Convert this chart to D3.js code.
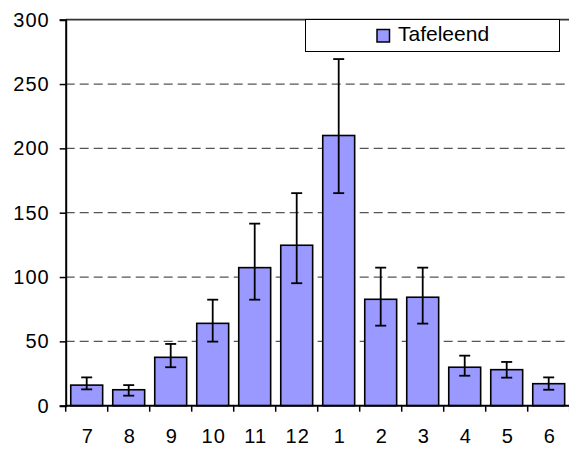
<!DOCTYPE html>
<html>
<head>
<meta charset="utf-8">
<script src="https://cdn.jsdelivr.net/npm/d3@7"></script>
<style>
  html, body { margin: 0; padding: 0; background: #fff; }
  svg { display: block; }
  text { font-family: "Liberation Sans", Arial, sans-serif; }
</style>
</head>
<body>
<svg id="chart" width="569" height="449"></svg>
<script>
const months = ["7", "8", "9", "10", "11", "12", "1", "2", "3", "4", "5", "6"];
const values = [16, 12.4, 37.6, 64, 107.3, 124.7, 210, 82.7, 84.3, 29.9, 28, 17.1];
const upperErr = [22, 16, 48, 82.4, 141.5, 165.2, 269.4, 107.3, 107.3, 38.9, 34, 22];
const lowerErr = [12.7, 7.8, 29.9, 49.8, 82.4, 95.2, 165.2, 62.2, 63.8, 23.3, 21.8, 12.4];
const yTicks = [0, 50, 100, 150, 200, 250, 300];
const seriesName = "Tafeleend";

const svg = d3.select("#chart");
const pLeft = 65.7, pRight = 569.7, pTop = 19.7, pBottom = 405.7;
const barColor = "#9999FF";
const FONT = "'Liberation Sans', Arial, sans-serif";

const x = d3.scaleBand().domain(months).range([pLeft, pRight]).padding(0);
const xBar = d3.scaleBand().domain(months).range([pLeft, pRight]).paddingInner(0.24).paddingOuter(0.12);
const y = d3.scaleLinear().domain([0, 300]).range([pBottom, pTop]);

// gridlines
svg.append("g").selectAll("line")
  .data(yTicks.filter(d => d > 0 && d < 300))
  .join("line")
  .attr("x1", pLeft).attr("x2", pRight)
  .attr("y1", d => y(d)).attr("y2", d => y(d))
  .attr("stroke", "#555").attr("stroke-width", 1.2)
  .attr("stroke-dasharray", "9,5");

// top border
svg.append("line")
  .attr("x1", pLeft).attr("x2", pRight)
  .attr("y1", y(300)).attr("y2", y(300))
  .attr("stroke", "#333").attr("stroke-width", 1.8);

// bars
svg.append("g").selectAll("rect")
  .data(months)
  .join("rect")
  .attr("x", d => xBar(d))
  .attr("width", xBar.bandwidth())
  .attr("y", (d, i) => y(values[i]))
  .attr("height", (d, i) => y(0) - y(values[i]))
  .attr("fill", barColor)
  .attr("stroke", "#000").attr("stroke-width", 1.6);

// error bars
const eg = svg.append("g").attr("stroke", "#000").attr("stroke-width", 1.8);
months.forEach((m, i) => {
  const cx = x(m) + x.bandwidth() / 2;
  const cap = 5.5;
  eg.append("line").attr("x1", cx).attr("x2", cx).attr("y1", y(upperErr[i])).attr("y2", y(lowerErr[i]));
  eg.append("line").attr("x1", cx - cap).attr("x2", cx + cap).attr("y1", y(upperErr[i])).attr("y2", y(upperErr[i]));
  eg.append("line").attr("x1", cx - cap).attr("x2", cx + cap).attr("y1", y(lowerErr[i])).attr("y2", y(lowerErr[i]));
});

// y axis
const yAxis = d3.axisLeft(y).tickValues(yTicks).tickSize(6).tickPadding(10).tickFormat(d3.format("d"));
const yg = svg.append("g").attr("transform", `translate(${pLeft},0)`).call(yAxis)
  .attr("font-family", FONT).attr("font-size", 20);
yg.select(".domain").attr("stroke", "#000").attr("stroke-width", 2);
yg.selectAll(".tick line").attr("stroke", "#000").attr("stroke-width", 1.5);
yg.selectAll(".tick text").attr("fill", "#000").attr("letter-spacing", "1px");

// x axis
const xg = svg.append("g").attr("transform", `translate(0,${pBottom})`);
xg.append("line").attr("x1", pLeft).attr("x2", pRight).attr("stroke", "#000").attr("stroke-width", 2);
xg.selectAll(".xtick").data(months.concat(["__end"]))
  .join("line")
  .attr("class", "xtick")
  .attr("x1", (d, i) => pLeft + i * x.bandwidth())
  .attr("x2", (d, i) => pLeft + i * x.bandwidth())
  .attr("y1", 0).attr("y2", 6)
  .attr("stroke", "#000").attr("stroke-width", 1.5);
xg.selectAll(".xlabel").data(months)
  .join("text")
  .attr("class", "xlabel")
  .attr("x", d => x(d) + x.bandwidth() / 2 + 1)
  .attr("y", 37.5)
  .attr("text-anchor", "middle")
  .attr("font-family", FONT)
  .attr("font-size", 20).attr("letter-spacing", "1px")
  .attr("fill", "#000")
  .text(d => d);

// legend
const lg = svg.append("g");
lg.append("rect").attr("x", 305.5).attr("y", 19.5).attr("width", 254).attr("height", 32)
  .attr("fill", "#fff").attr("stroke", "#000").attr("stroke-width", 1);
lg.append("rect").attr("x", 377).attr("y", 29.5).attr("width", 12.5).attr("height", 12.5)
  .attr("fill", barColor).attr("stroke", "#000").attr("stroke-width", 1.5);
lg.append("text").attr("x", 398).attr("y", 41).attr("font-family", FONT).attr("font-size", 21).attr("fill", "#000")
  .text(seriesName);
</script>
</body>
</html>
